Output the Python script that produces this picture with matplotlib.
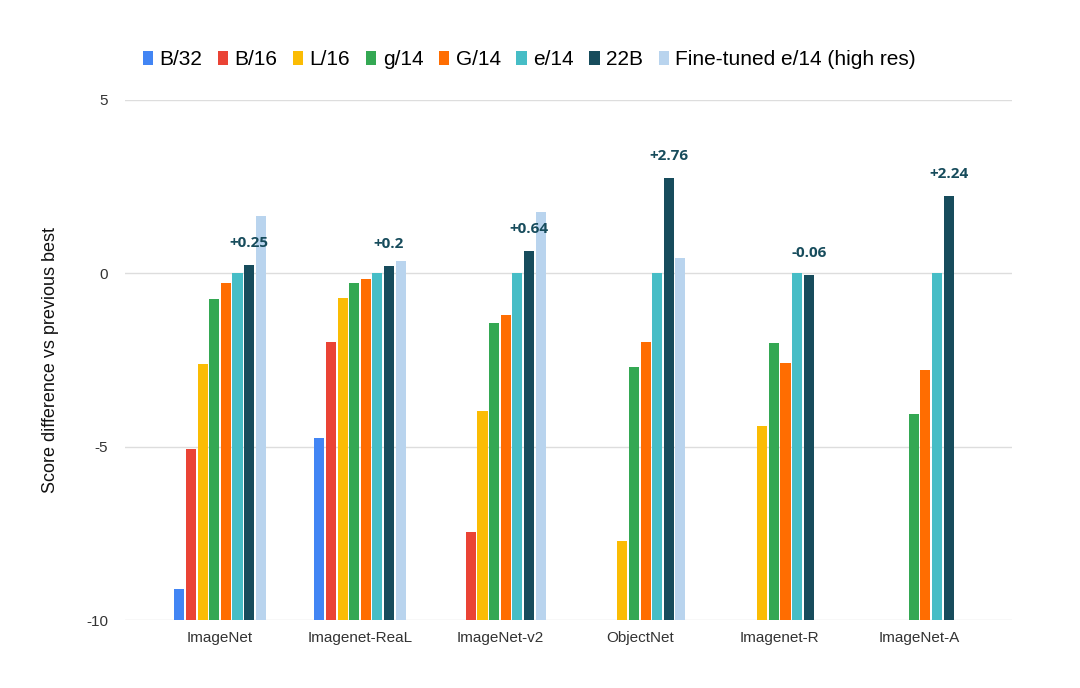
import numpy as np
import matplotlib.pyplot as plt

plt.rcParams['font.family'] = ['Liberation Sans', 'DejaVu Sans']

nan = np.nan
categories = ["ImageNet", "Imagenet-ReaL", "ImageNet-v2", "ObjectNet", "Imagenet-R", "ImageNet-A"]
series_names = ["B/32", "B/16", "L/16", "g/14", "G/14", "e/14", "22B", "Fine-tuned e/14 (high res)"]
b32 = [-9.1, -4.76, nan, nan, nan, nan]
b16 = [-5.07, -1.98, -7.45, nan, nan, nan]
l16 = [-2.62, -0.72, -3.97, -7.72, -4.41, nan]
g14 = [-0.75, -0.27, -1.42, -2.7, -2.02, -4.07]
G14 = [-0.29, -0.15, -1.2, -1.99, -2.6, -2.79]
e14 = [0, 0, 0, 0, 0, 0]
b22 = [0.25, 0.2, 0.64, 2.76, -0.06, 2.24]
ft_e14 = [1.64, 0.35, 1.78, 0.45, nan, nan]
labels_22b = ["+0.25", "+0.2", "+0.64", "+2.76", "-0.06", "+2.24"]

colors = ["#4285F4", "#EA4335", "#FBBC04", "#34A853", "#FF6D01", "#46BDC6", "#174C5C", "#B9D4EE"]
all_series = [b32, b16, l16, g14, G14, e14, b22, ft_e14]

fig = plt.figure(figsize=(10.8, 6.88), dpi=100)
ax = fig.add_axes([0.1157, 0.0988, 0.8213, 0.7559])

base = -10
x = np.arange(len(categories))
slot = 0.083
width = 0.072
for i, (vals, c, name) in enumerate(zip(all_series, colors, series_names)):
    v = np.array(vals, dtype=float)
    pos = x + (i - 3.5) * slot
    ax.bar(pos, v - base, bottom=base, width=width, color=c, label=name, zorder=3)
    if name == "22B":
        for xp, val, lab in zip(pos, v, labels_22b):
            ax.annotate(lab, (xp, val), textcoords="offset points", xytext=(0, 13),
                        ha='center', fontsize=11, fontweight='bold', color="#174C5C",
                        family=['Open Sans', 'DejaVu Sans'], zorder=10)

ax.set_ylim(-10, 5)
ax.set_xlim(-0.68, 5.66)
ax.set_yticks([5, 0, -5, -10])
ax.set_yticklabels(["5", "0", "-5", "-10"])
ax.set_xticks(x)
ax.set_xticklabels(categories)
ax.tick_params(axis='both', length=0, labelsize=11, colors="#333333")
ax.tick_params(axis='y', pad=12)
ax.tick_params(axis='x', pad=8)
ax.grid(axis='y', color="#dddddd", linewidth=1, zorder=0)
for s in ax.spines.values():
    s.set_visible(False)
ax.set_ylabel("Score difference vs previous best", fontsize=13, color="#111111", labelpad=20)

fig.legend(loc='center', bbox_to_anchor=(0.49, 0.913), ncol=8, frameon=False,
           fontsize=15, handlelength=0.5, handleheight=0.7, handletextpad=0.3,
           columnspacing=0.75)

plt.savefig("out.png", dpi=100)
